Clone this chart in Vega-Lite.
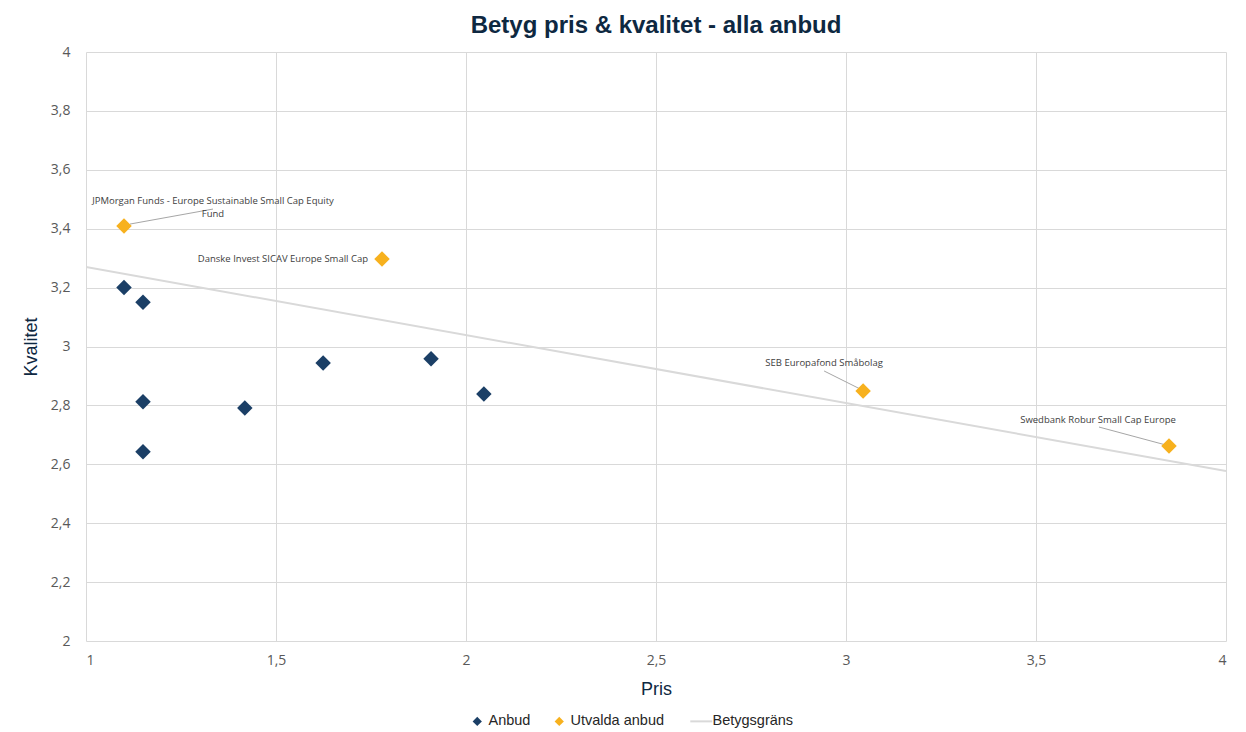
{
  "$schema": "https://vega.github.io/schema/vega-lite/v6.json",
  "width": 1140,
  "height": 589,
  "autosize": {"type": "none"},
  "padding": {"left": 86, "top": 52, "right": 20, "bottom": 91},
  "background": "white",
  "title": {
    "text": "Betyg pris & kvalitet - alla anbud",
    "font": "Liberation Sans",
    "fontSize": 24,
    "fontWeight": "bold",
    "color": "#0E2841",
    "anchor": "middle",
    "offset": 7
  },
  "config": {
    "view": {"stroke": null},
    "axis": {
      "labelFont": "Open Sans",
      "labelFontSize": 14,
      "labelColor": "#595959",
      "titleFont": "Liberation Sans",
      "titleFontSize": 18,
      "titleFontWeight": "normal",
      "titleColor": "#0E2841",
      "gridColor": "#D9D9D9",
      "gridWidth": 1,
      "domain": false,
      "ticks": false
    }
  },
  "datasets": {
    "points": [
      {"pris": 1.10, "kvalitet": 3.20, "serie": "Anbud", "namn": ""},
      {"pris": 1.15, "kvalitet": 3.15, "serie": "Anbud", "namn": ""},
      {"pris": 1.15, "kvalitet": 2.812, "serie": "Anbud", "namn": ""},
      {"pris": 1.15, "kvalitet": 2.643, "serie": "Anbud", "namn": ""},
      {"pris": 1.418, "kvalitet": 2.791, "serie": "Anbud", "namn": ""},
      {"pris": 1.624, "kvalitet": 2.944, "serie": "Anbud", "namn": ""},
      {"pris": 1.908, "kvalitet": 2.958, "serie": "Anbud", "namn": ""},
      {"pris": 2.047, "kvalitet": 2.839, "serie": "Anbud", "namn": ""},
      {"pris": 1.10, "kvalitet": 3.409, "serie": "Utvalda anbud", "namn": "JPMorgan"},
      {"pris": 1.779, "kvalitet": 3.297, "serie": "Utvalda anbud", "namn": "Danske"},
      {"pris": 3.045, "kvalitet": 2.849, "serie": "Utvalda anbud", "namn": "SEB"},
      {"pris": 3.85, "kvalitet": 2.662, "serie": "Utvalda anbud", "namn": "Swedbank"}
    ],
    "line": [
      {"pris": 1, "kvalitet": 3.27, "serie": "Betygsgräns"},
      {"pris": 4, "kvalitet": 2.577, "serie": "Betygsgräns"}
    ]
  },
  "encoding": {
    "x": {
      "field": "pris", "type": "quantitative",
      "scale": {"domain": [1, 4], "nice": false, "zero": false},
      "axis": {"title": "Pris", "values": [1, 1.5, 2, 2.5, 3, 3.5, 4], "labelPadding": 12, "titlePadding": 13, "labelExpr": "replace(toString(datum.value), '.', ',')"}
    },
    "y": {
      "field": "kvalitet", "type": "quantitative",
      "scale": {"domain": [2, 4], "nice": false, "zero": false},
      "axis": {"title": "Kvalitet", "values": [2, 2.2, 2.4, 2.6, 2.8, 3, 3.2, 3.4, 3.6, 3.8, 4], "labelPadding": 16, "titlePadding": 10, "labelExpr": "replace(toString(datum.value), '.', ',')"}
    }
  },
  "layer": [
    {
      "data": {"name": "line"},
      "mark": {"type": "line", "strokeWidth": 2, "clip": true},
      "encoding": {
        "color": {
          "field": "serie", "type": "nominal",
          "scale": {"domain": ["Anbud", "Utvalda anbud", "Betygsgräns"], "range": ["#1B3F66", "#F7B11E", "#D9D9D9"]},
          "legend": {
            "orient": "none",
            "legendX": 384,
            "legendY": 662,
            "direction": "horizontal",
            "title": null,
            "labelFont": "Liberation Sans",
            "labelFontSize": 14.5,
            "labelColor": "#262626",
            "symbolSize": 480,
            "columnPadding": 21,
            "labelOffset": 4,
            "encode": {
              "symbols": {
                "update": {
                  "shape": {"signal": "datum.value == 'Betygsgräns' ? 'stroke' : 'diamond'"},
                  "size": {"signal": "datum.value == 'Betygsgräns' ? 480 : 85"},
                  "fill": {"scale": "color", "field": "value"},
                  "stroke": {"scale": "color", "field": "value"},
                  "strokeWidth": {"signal": "datum.value == 'Betygsgräns' ? 2 : 0"},
                  "opacity": {"value": 1}
                }
              }
            }
          }
        }
      }
    },
    {
      "data": {"name": "points"},
      "transform": [{"filter": "datum.namn == 'JPMorgan'"}],
      "mark": {"type": "rule", "color": "#A6A6A6", "strokeWidth": 1, "xOffset": 6, "yOffset": -2, "x2Offset": 89, "y2Offset": -17},
      "encoding": {"x2": {"field": "pris"}, "y2": {"field": "kvalitet"}}
    },
    {
      "data": {"name": "points"},
      "transform": [{"filter": "datum.namn == 'SEB'"}],
      "mark": {"type": "rule", "color": "#A6A6A6", "strokeWidth": 1, "xOffset": -3, "yOffset": -2, "x2Offset": -39, "y2Offset": -20},
      "encoding": {"x2": {"field": "pris"}, "y2": {"field": "kvalitet"}}
    },
    {
      "data": {"name": "points"},
      "transform": [{"filter": "datum.namn == 'Swedbank'"}],
      "mark": {"type": "rule", "color": "#A6A6A6", "strokeWidth": 1, "xOffset": -3, "yOffset": -1, "x2Offset": -70, "y2Offset": -19},
      "encoding": {"x2": {"field": "pris"}, "y2": {"field": "kvalitet"}}
    },
    {
      "data": {"name": "points"},
      "mark": {"type": "point", "shape": "diamond", "filled": true, "opacity": 1, "size": 240},
      "encoding": {
        "color": {"field": "serie", "type": "nominal"}
      }
    },
    {
      "data": {"name": "points"},
      "transform": [{"filter": "datum.namn == 'JPMorgan'"}],
      "mark": {"type": "text", "font": "Open Sans", "fontSize": 9.5, "color": "#404040", "align": "center", "baseline": "bottom", "dx": 89, "dy": -20, "lineHeight": 13},
      "encoding": {"text": {"value": ["JPMorgan Funds - Europe Sustainable Small Cap Equity", "Fund"]}}
    },
    {
      "data": {"name": "points"},
      "transform": [{"filter": "datum.namn == 'Danske'"}],
      "mark": {"type": "text", "font": "Open Sans", "fontSize": 9.5, "color": "#404040", "align": "right", "baseline": "middle", "dx": -14, "dy": 0},
      "encoding": {"text": {"value": "Danske Invest SICAV Europe Small Cap"}}
    },
    {
      "data": {"name": "points"},
      "transform": [{"filter": "datum.namn == 'SEB'"}],
      "mark": {"type": "text", "font": "Open Sans", "fontSize": 9.5, "color": "#404040", "align": "center", "baseline": "bottom", "dx": -39, "dy": -23},
      "encoding": {"text": {"value": "SEB Europafond Småbolag"}}
    },
    {
      "data": {"name": "points"},
      "transform": [{"filter": "datum.namn == 'Swedbank'"}],
      "mark": {"type": "text", "font": "Open Sans", "fontSize": 9.5, "color": "#404040", "align": "center", "baseline": "bottom", "dx": -71, "dy": -21},
      "encoding": {"text": {"value": "Swedbank Robur Small Cap Europe"}}
    }
  ]
}
